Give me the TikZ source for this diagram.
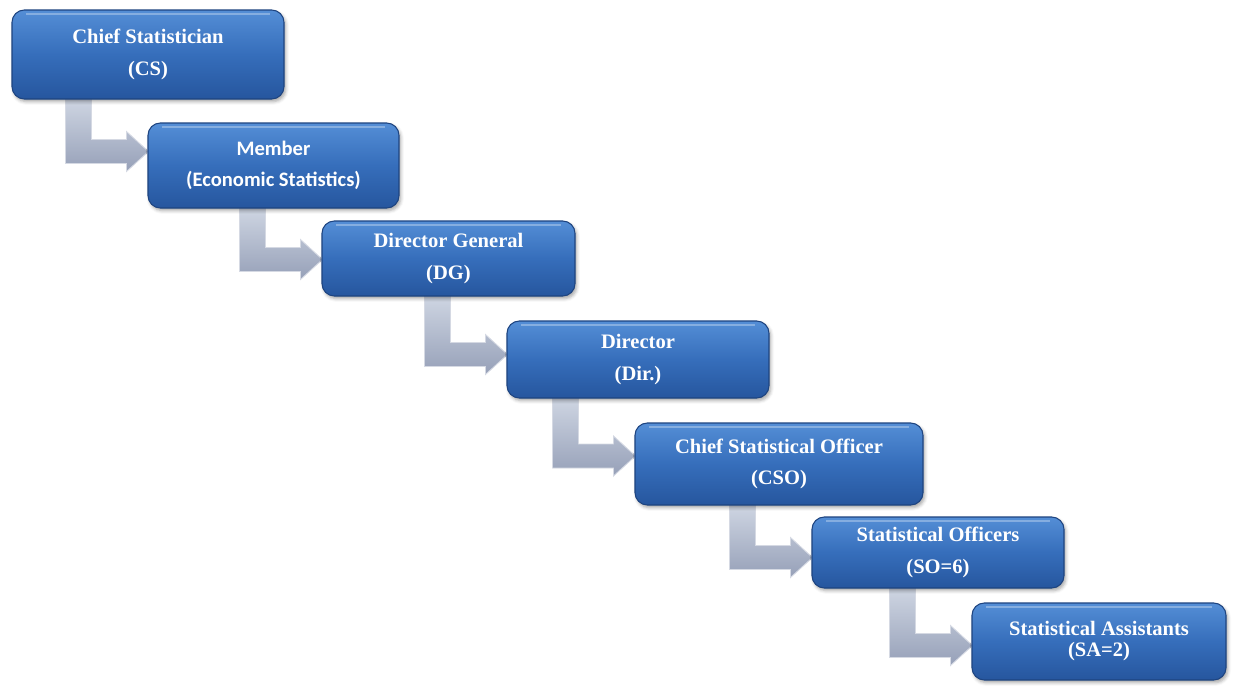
\documentclass[tikz,border=0pt]{standalone}
\usepackage{fontspec}
\setmainfont{Liberation Serif}
\newfontfamily\calfont{Carlito}
\usetikzlibrary{calc,shadows.blur,backgrounds}
\definecolor{boxtop}{RGB}{84,142,214}
\definecolor{boxmid}{RGB}{54,110,187}
\definecolor{boxbot}{RGB}{38,86,158}
\definecolor{boxedge}{RGB}{30,68,128}
\definecolor{arrowlight}{RGB}{206,213,226}
\definecolor{arrowdark}{RGB}{150,160,184}

\begin{document}
\begin{tikzpicture}[
    x=0.02cm, y=-0.02cm,
    office/.style={rectangle, rounded corners=7pt, draw=boxedge, line width=0.6pt,
                   top color=boxtop, bottom color=boxbot, middle color=boxmid,
                   text=white, inner sep=0pt, align=center,
                   font=\fontsize{11.7}{18}\selectfont\bfseries,
                   blur shadow={shadow xshift=1pt, shadow yshift=-1.5pt, shadow opacity=35},
                   path picture={\draw[white, opacity=0.3, line width=1.2pt]
                       ([xshift=8pt,yshift=-2.5pt]path picture bounding box.north west) --
                       ([xshift=-8pt,yshift=-2.5pt]path picture bounding box.north east);}},
    pointer/.style={top color=arrowlight, bottom color=arrowdark,
                    draw=white!60!arrowdark, line width=0.5pt, line join=miter}
]
    \useasboundingbox (0,0) rectangle (1246,693);

    % Offices
    \node[office, minimum width=272*0.02cm, minimum height=89*0.02cm] (cs) at (148,54.5)
        {Chief Statistician\\(CS)};
    \node[office, minimum width=251*0.02cm, minimum height=85*0.02cm,
          font=\fontsize{11.7}{18}\selectfont\calfont\bfseries] (mem) at (273.5,165.5)
        {Member\\(Economic Statistics)};
    \node[office, minimum width=253*0.02cm, minimum height=75*0.02cm] (dg) at (448.5,258.5)
        {Director General\\(DG)};
    \node[office, minimum width=262*0.02cm, minimum height=77*0.02cm] (dir) at (638,359.5)
        {Director\\(Dir.)};
    \node[office, minimum width=288*0.02cm, minimum height=82*0.02cm] (cso) at (779,464)
        {Chief Statistical Officer\\(CSO)};
    \node[office, minimum width=252*0.02cm, minimum height=71*0.02cm] (so) at (938,552.5)
        {Statistical Officers\\(SO=6)};
    \node[office, minimum width=254*0.02cm, minimum height=77*0.02cm,
          font=\fontsize{11.7}{12}\selectfont\bfseries] (sa) at (1099,641.5)
        {Statistical Assistants\\(SA=2)};

    % Elbow arrows
    \begin{pgfonlayer}{background}
    \foreach \a/\b/\d in {cs/mem/-14, mem/dg/1, dg/dir/-5, dir/cso/-8, cso/so/5, so/sa/4} {
        \coordinate (t) at ($(\b.west)+(1,\d)$);
        \shade[pointer] ({$(t)+(-83,0)$} |- \a.south) -- ++(26,0)
            -- ($(t)+(-57,-12)$) -- ($(t)+(-22,-12)$) -- ($(t)+(-22,-20)$)
            -- (t) -- ($(t)+(-22,20)$) -- ($(t)+(-22,12)$)
            -- ($(t)+(-83,12)$) -- cycle;
    }
    \end{pgfonlayer}
\end{tikzpicture}
\end{document}
